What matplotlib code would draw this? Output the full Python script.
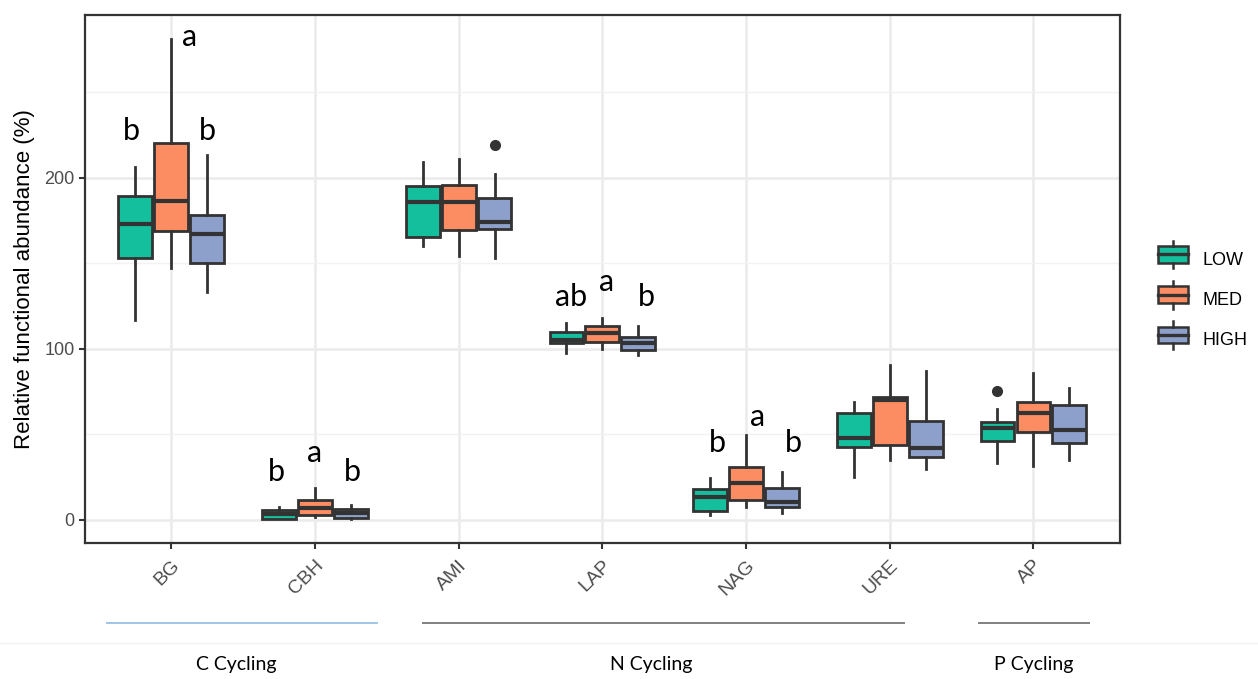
import numpy as np
import matplotlib
matplotlib.use('Agg')
import matplotlib.pyplot as plt
from matplotlib.legend_handler import HandlerBase
from matplotlib.patches import Rectangle
from matplotlib.lines import Line2D
from matplotlib.transforms import blended_transform_factory

enzymes = ['BG', 'CBH', 'AMI', 'LAP', 'NAG', 'URE', 'AP']
levels = ['LOW', 'MED', 'HIGH']
colors = ['#14BF9D', '#FC8D62', '#8DA0CB']

# rows = LOW, MED, HIGH ; columns = enzymes
whislo = [[117, 0.3, 160, 97.7, 3.0, 25, 33.5],
          [147, 1.8, 154, 100, 7.6, 35, 31.6],
          [133, 0.5, 153, 96.5, 4.0, 30, 35]]
q1 = [[153, 0.8, 165.5, 103.5, 5.3, 42.7, 46],
      [169, 3.0, 169.6, 104, 11.7, 44, 51.5],
      [150, 1.2, 170, 99.4, 7.6, 36.5, 45]]
med = [[173, 3.5, 186, 105, 13.5, 48, 53.5],
       [186.5, 7.0, 186, 109, 21.6, 70, 62.5],
       [167, 4.0, 174.3, 103.5, 10.5, 42, 52.6]]
q3 = [[189, 5.8, 195, 110, 18, 62.5, 57],
      [220, 11.7, 195.5, 113.5, 31, 72, 69],
      [178, 6.4, 188, 107, 18.7, 57.5, 67]]
whishi = [[206, 7.6, 209, 115, 24.5, 69, 65],
          [281, 18.7, 211, 118, 49.7, 90.6, 86],
          [213, 8.8, 202, 113, 28, 87, 77]]
fliers = [[[], [], [], [], [], [], [75.6]],
          [[], [], [], [], [], [], []],
          [[], [], [219], [], [], [], []]]

# significance letters
sig_text = ['b', 'a', 'b', 'b', 'a', 'b', 'ab', 'a', 'b', 'b', 'a', 'b']
sig_x = [0.72, 1.125, 1.25, 1.73, 2.0, 2.26, 3.78, 4.03, 4.31, 4.8, 5.08, 5.33]
sig_y = [227, 282, 227, 28, 39, 28, 130, 139, 130, 45, 60, 45]

groups = ['C Cycling', 'N Cycling', 'P Cycling']
group_start = [0.555, 2.75, 6.62]
group_end = [2.43, 6.10, 7.39]
group_mid = [1.45, 4.34, 7.0]
group_col = ['#9FC5E8', '#808080', '#808080']

edge = '#333333'

fig = plt.figure(figsize=(12.58, 6.79), dpi=100)
ax = fig.add_axes([0.0676, 0.2003, 0.8224, 0.7776])

offsets = [-0.25, 0, 0.25]
for i, lev in enumerate(levels):
    stats = []
    for j in range(len(enzymes)):
        stats.append({'whislo': whislo[i][j], 'q1': q1[i][j], 'med': med[i][j],
                      'q3': q3[i][j], 'whishi': whishi[i][j], 'fliers': fliers[i][j]})
    pos = np.arange(1, len(enzymes) + 1) + offsets[i]
    ax.bxp(stats, positions=pos, widths=0.235, patch_artist=True, showcaps=False,
           boxprops=dict(facecolor=colors[i], edgecolor=edge, linewidth=2.0),
           medianprops=dict(color=edge, linewidth=3.0),
           whiskerprops=dict(color=edge, linewidth=2.0),
           flierprops=dict(marker='o', markerfacecolor=edge, markeredgecolor=edge, markersize=7),
           manage_ticks=False, zorder=3)

for t, x, y in zip(sig_text, sig_x, sig_y):
    ax.text(x, y, t, ha='center', va='center', fontsize=22, family='Lato', color='black', zorder=4)

ax.set_xlim(0.4, 7.6)
ax.set_ylim(-13.5, 295)
ax.set_xticks(np.arange(1, len(enzymes) + 1))
ax.set_xticklabels(enzymes, rotation=45, ha='right', va='top', rotation_mode='anchor',
                   fontsize=14, color='#4D4D4D', family='Liberation Sans')
ax.set_yticks([0, 100, 200])
ax.set_yticks([50, 150, 250], minor=True)
ax.tick_params(axis='y', which='minor', length=0)
ax.tick_params(axis='both', which='major', length=4, width=1.5, color=edge,
               labelcolor='#4D4D4D')
ax.tick_params(axis='y', labelsize=13)
ax.tick_params(axis='x', pad=6)
for lab in ax.get_yticklabels():
    lab.set_family('Liberation Sans')
ax.grid(True, which='major', color='#EBEBEB', linewidth=1.8, zorder=0)
ax.grid(True, which='minor', axis='y', color='#F2F2F2', linewidth=1.0, zorder=0)
ax.set_axisbelow(True)
for s in ax.spines.values():
    s.set_color(edge)
    s.set_linewidth(1.6)
ax.set_ylabel('Relative functional abundance (%)', fontsize=16, family='Liberation Sans',
              color='black', labelpad=7)


class BoxHandler(HandlerBase):
    def create_artists(self, legend, orig, xd, yd, w, h, fontsize, trans):
        c = orig.get_facecolor()
        r = Rectangle((xd, yd), w, h, facecolor=c, edgecolor=edge, linewidth=1.8, transform=trans)
        m = Line2D([xd, xd + w], [yd + h / 2, yd + h / 2], color=edge, linewidth=2.4, transform=trans)
        w1 = Line2D([xd + w / 2, xd + w / 2], [yd + h, yd + h + 4], color=edge, linewidth=1.8, transform=trans)
        w2 = Line2D([xd + w / 2, xd + w / 2], [yd - 4, yd], color=edge, linewidth=1.8, transform=trans)
        return [r, m, w1, w2]


handles = [Rectangle((0, 0), 1, 1, facecolor=c) for c in colors]
fig.legend(handles, levels, handler_map={Rectangle: BoxHandler()}, loc='center left',
           bbox_to_anchor=(0.9135, 1 - 300 / 679), frameon=False,
           handlelength=1.65, handleheight=1.05, handletextpad=0.8, labelspacing=1.2,
           borderpad=0, prop={'family': 'Liberation Sans', 'size': 13})

# group bars and labels under the axis
tr = blended_transform_factory(ax.transData, fig.transFigure)
for name, a, b, m, c in zip(groups, group_start, group_end, group_mid, group_col):
    ax.plot([a, b], [0.0825, 0.0825], color=c, linewidth=1.4, transform=tr, clip_on=False)
    ax.text(m, 0.021, name, transform=tr, ha='center', va='center', fontsize=14, family='Lato')
fig.add_artist(Line2D([0, 1], [1 - 643 / 679, 1 - 643 / 679], color='#F3F3F3', linewidth=1))

fig.savefig('out.png', dpi=100)
